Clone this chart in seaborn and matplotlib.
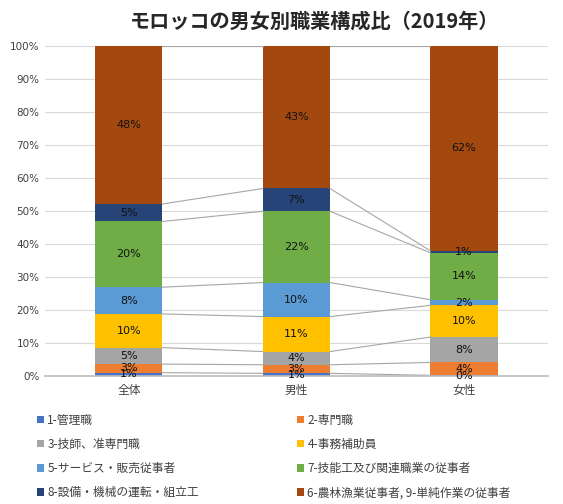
import numpy as np
import pandas as pd
import matplotlib
matplotlib.use('Agg')
import matplotlib.pyplot as plt
from matplotlib.patches import Patch
import seaborn as sns

sns.set_theme(style='white')
plt.rcParams['font.family'] = ['Noto Sans CJK JP', 'DejaVu Sans']

# data (share of employed, %)
groups = ['全体', '男性', '女性']
occupations = ['1-管理職', '2-専門職', '3-技師、准専門職', '4-事務補助員',
               '5-サービス・販売従事者', '7-技能工及び関連職業の従事者',
               '8-設備・機械の運転・組立工', '6-農林漁業従事者, 9-単純作業の従事者']
manager = [1.0, 0.8, 0.2]
professional = [2.6, 2.6, 3.9]
technician = [5.0, 4.0, 7.7]
clerical = [10.2, 10.6, 9.6]
service = [8.1, 10.3, 1.7]
craft = [19.9, 21.6, 14.2]
operator = [5.3, 6.9, 0.6]
agri_elementary = [47.9, 43.2, 62.1]

colors = ['#4472C4', '#ED7D31', '#A5A5A5', '#FFC000',
          '#5B9BD5', '#70AD47', '#264478', '#A3490F']

series = [manager, professional, technician, clerical,
          service, craft, operator, agri_elementary]

fig = plt.figure(figsize=(5.63, 5.04), dpi=100)
ax = fig.add_axes([0.08, 0.254, 0.893, 0.655])

bar_w = 0.4
bottom = np.zeros(len(groups))
tops = []
for name, vals, col in zip(occupations, series, colors):
    vals = np.array(vals)
    sns.barplot(x=groups, y=vals, bottom=bottom, color=col, width=bar_w,
                saturation=1, ax=ax, linewidth=0)
    for i, (v, b) in enumerate(zip(vals, bottom)):
        ax.text(i, b + v / 2, f'{round(v)}%', ha='center', va='center',
                fontsize=8, color='#111111', family='DejaVu Sans')
    bottom = bottom + vals
    tops.append(bottom.copy())

# series lines between bars
for t in tops:
    for i in range(len(groups) - 1):
        ax.plot([i + bar_w / 2, i + 1 - bar_w / 2], [t[i], t[i + 1]],
                color='#A6A6A6', lw=0.8, zorder=1)

ax.set_ylim(0, 100)
ax.set_xlim(-0.5, 2.5)
ax.set_yticks(np.arange(0, 101, 10))
ax.set_yticklabels([f'{v}%' for v in range(0, 101, 10)], fontsize=7.5,
                   color='#404040', family='DejaVu Sans')
ax.tick_params(axis='x', labelsize=8.5, colors='#404040', length=0, pad=6)
ax.tick_params(axis='y', length=0, pad=4)
ax.yaxis.grid(True, color='#D9D9D9', lw=0.8)
ax.set_axisbelow(True)
for s in ['top', 'right', 'left']:
    ax.spines[s].set_visible(False)
ax.spines['bottom'].set_color('#BFBFBF')
ax.set_xlabel('')
ax.set_ylabel('')

fig.text(315 / 563, 1 - 21 / 504, 'モロッコの男女別職業構成比（2019年）',
         ha='center', va='center', fontsize=14.5, fontweight='bold')

# legend: reorder so 2-column layout reads row by row
order = [0, 2, 4, 6, 1, 3, 5, 7]
handles = [Patch(facecolor=colors[k], edgecolor='none', label=occupations[k]) for k in order]
fig.legend(handles=handles, loc='upper left', bbox_to_anchor=(26 / 563, 1 - 403 / 504),
           ncol=2, frameon=False, fontsize=8.5, handlelength=0.6, handleheight=0.6,
           handletextpad=0.3, columnspacing=8.3, labelspacing=0.95,
           labelcolor='#404040')

fig.savefig('out.png', dpi=100)
